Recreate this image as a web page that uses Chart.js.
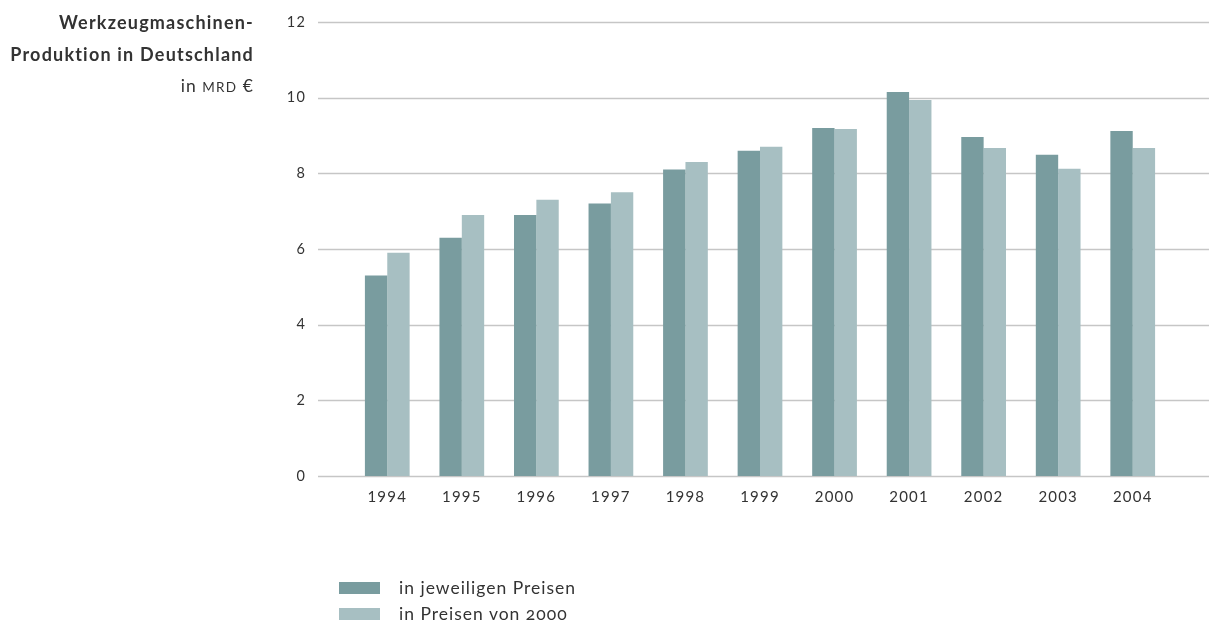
<!DOCTYPE html>
<html lang="de">
<head>
<meta charset="utf-8">
<title>Werkzeugmaschinen-Produktion in Deutschland</title>
<script src="https://cdn.jsdelivr.net/npm/chart.js@4.4.1/dist/chart.umd.min.js"></script>
<style>
  html, body { margin: 0; padding: 0; background: #fff; }
  body { width: 1209px; height: 623px; position: relative; overflow: hidden; font-family: Lato, "Open Sans", sans-serif; color: #333; }
  #wrap { position: absolute; left: 0; top: 0; width: 1209px; height: 623px; }
  #title { position: absolute; right: calc(1209px - 254px); top: 6px; text-align: right; font-size: 18px; letter-spacing: 1.2px; line-height: 32px; }
  #title b { font-weight: 700; display: block; white-space: nowrap; }
  #title .unit { display: block; font-weight: 400; line-height: 32px; font-size: 17.5px; letter-spacing: 1px; }
  #title .unit small { font-size: 13.5px; letter-spacing: 1.3px; }
  #legend { position: absolute; left: 339px; top: 577px; font-size: 17.5px; letter-spacing: 1px; }
  #legend .item { position: relative; height: 26px; line-height: 22px; padding-left: 60px; white-space: nowrap; }
  #legend .box { position: absolute; left: 0; top: 5px; width: 41px; height: 12px; }
  #legend .num { font-feature-settings: "onum" 1; }
</style>
</head>
<body>
<div id="wrap"><canvas id="c" width="1209" height="623"></canvas></div>
<div id="title">
  <b>Werkzeugmaschinen-</b>
  <b>Produktion in Deutschland</b>
  <span class="unit">in <small>MRD</small> €</span>
</div>
<div id="legend"></div>
<script>
// Produktionswert in Mrd. Euro
const years = ['1994', '1995', '1996', '1997', '1998', '1999', '2000', '2001', '2002', '2003', '2004'];
const currentPrices = [5.3, 6.3, 6.9, 7.2, 8.1, 8.6, 9.2, 10.15, 8.96, 8.49, 9.12];
const constantPrices = [5.9, 6.9, 7.3, 7.5, 8.3, 8.7, 9.17, 9.94, 8.67, 8.12, 8.67];
const yTicks = [0, 2, 4, 6, 8, 10, 12];
const seriesNames = ['in jeweiligen Preisen', 'in Preisen von 2000'];
const seriesColors = ['#799c9f', '#a7bfc2'];

// horizontal guide lines run wider than the bar area
const guideLines = {
  id: 'guideLines',
  beforeDatasetsDraw(chart) {
    const { ctx } = chart;
    const y = chart.scales.y;
    ctx.save();
    ctx.strokeStyle = '#c6c6c6';
    ctx.lineWidth = 1.3;
    yTicks.forEach(v => {
      const py = Math.round(y.getPixelForValue(v)) + 0.5;
      ctx.beginPath();
      ctx.moveTo(318, py);
      ctx.lineTo(chart.width, py);
      ctx.stroke();
    });
    ctx.restore();
  }
};

// slightly tracked axis lettering
const tracking = {
  id: 'tracking',
  beforeDraw(chart) { chart.ctx.letterSpacing = '1.2px'; }
};

new Chart(document.getElementById('c'), {
  type: 'bar',
  data: {
    labels: years,
    datasets: [
      { label: seriesNames[0], data: currentPrices, backgroundColor: seriesColors[0] },
      { label: seriesNames[1], data: constantPrices, backgroundColor: seriesColors[1] }
    ]
  },
  plugins: [guideLines, tracking],
  options: {
    responsive: false,
    animation: false,
    events: [],
    layout: { padding: { top: 22, right: 39, left: 0, bottom: 0 } },
    datasets: { bar: { categoryPercentage: 0.6, barPercentage: 1.0, borderWidth: 0 } },
    plugins: { legend: { display: false }, tooltip: { enabled: false }, title: { display: false } },
    scales: {
      x: {
        grid: { display: false, drawTicks: false },
        border: { display: false },
        ticks: { color: '#333', padding: 12, font: { family: 'Lato', size: 15 }, maxRotation: 0 },
        afterFit(scale) { scale.height = 147; }
      },
      y: {
        min: 0, max: 12,
        afterBuildTicks(scale) { scale.ticks = yTicks.map(v => ({ value: v })); },
        grid: { display: false, drawTicks: true, tickLength: 32 },
        border: { display: false },
        ticks: { color: '#333', padding: 12, font: { family: 'Lato', size: 14.5 } },
        afterFit(scale) { scale.width = 350; }
      }
    }
  }
});

// legend below the chart
const legend = document.getElementById('legend');
seriesNames.forEach((name, i) => {
  const item = document.createElement('div');
  item.className = 'item';
  const box = document.createElement('span');
  box.className = 'box';
  box.style.background = seriesColors[i];
  item.appendChild(box);
  const text = document.createElement('span');
  text.innerHTML = name.replace(/(\d+)/, '<span class="num">$1</span>');
  item.appendChild(text);
  legend.appendChild(item);
});
</script>
</body>
</html>
